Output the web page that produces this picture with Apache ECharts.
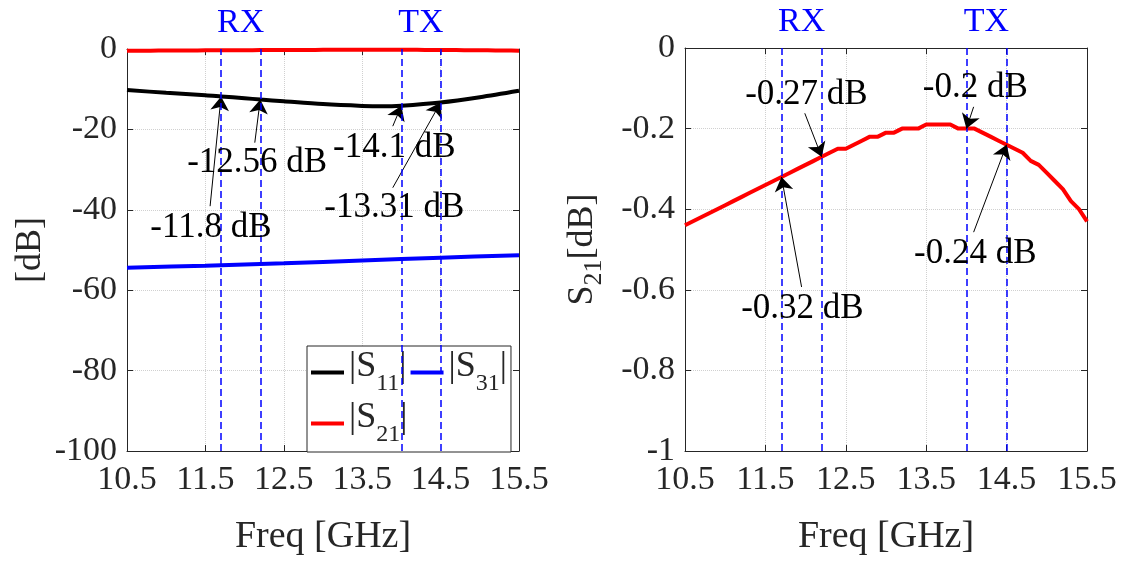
<!DOCTYPE html>
<html>
<head>
<meta charset="utf-8">
<script src="https://cdn.jsdelivr.net/npm/echarts@6/dist/echarts.min.js"></script>
<style>
html,body{margin:0;padding:0;background:#fff;}
#chart{width:1125px;height:561px;}
</style>
</head>
<body>
<div id="chart"></div>
<script>
// ---- Data ----
const freqTicks = [10.5, 11.5, 12.5, 13.5, 14.5, 15.5];
const freq = [10.5, 10.6, 10.7, 10.8, 10.9, 11.0, 11.1, 11.2, 11.3, 11.4,
  11.5, 11.6, 11.7, 11.8, 11.9, 12.0, 12.1, 12.2, 12.3, 12.4,
  12.5, 12.6, 12.7, 12.8, 12.9, 13.0, 13.1, 13.2, 13.3, 13.4,
  13.5, 13.6, 13.7, 13.8, 13.9, 14.0, 14.1, 14.2, 14.3, 14.4,
  14.5, 14.6, 14.7, 14.8, 14.9, 15.0, 15.1, 15.2, 15.3, 15.4, 15.5];
const s21 = [-0.44, -0.43, -0.42, -0.41, -0.40, -0.39, -0.38, -0.37, -0.36, -0.35,
  -0.34, -0.33, -0.32, -0.31, -0.30, -0.29, -0.28, -0.27, -0.26, -0.25,
  -0.25, -0.24, -0.23, -0.22, -0.22, -0.21, -0.21, -0.20, -0.20, -0.20,
  -0.19, -0.19, -0.19, -0.19, -0.20, -0.20, -0.20, -0.21, -0.22, -0.23,
  -0.24, -0.25, -0.26, -0.28, -0.29, -0.31, -0.33, -0.35, -0.38, -0.40, -0.43];
const freqS11 = [10.5, 11.0, 11.5, 11.7, 12.0, 12.2, 12.5, 13.0, 13.5, 13.75, 14.0, 14.5, 15.0, 15.5];
const s11 = [-10.2, -10.9, -11.5, -11.8, -12.25, -12.56, -13.0, -13.7, -14.15, -14.25, -14.1, -13.31, -12.0, -10.4];
const freqS31 = [10.5, 11.5, 12.5, 13.5, 14.5, 15.5];
const s31 = [-54.4, -53.9, -53.3, -52.6, -51.9, -51.3];
const bandEdges = [11.7, 12.2, 14.0, 14.5];
const bandNames = ['RX', 'TX'];
const bandCenters = [11.95, 14.25];
// annotations: [target freq, target value, text]
const annLeftTarget = [[11.7, -11.8], [12.2, -12.56], [14.0, -14.1], [14.5, -13.31]];
const annLeftText = ['-11.8 dB', '-12.56 dB', '-14.1 dB', '-13.31 dB'];
const annRightTarget = [[11.7, -0.32], [12.2, -0.27], [14.0, -0.2], [14.5, -0.24]];
const annRightText = ['-0.32 dB', '-0.27 dB', '-0.2 dB', '-0.24 dB'];

// ---- layout (not data) ----
const annLeftTail = [[11.56, -39.1], [12.13, -23.3], [13.89, -19.2], [13.89, -34.5]];
const annLeftLabel = [[11.57, -44.4], [12.16, -28.4], [13.91, -24.5], [13.91, -39.6]];
const annRightTail = [[11.95, -0.593], [11.99, -0.162], [14.09, -0.146], [14.09, -0.457]];
const annRightLabel = [[11.96, -0.647], [12.01, -0.116], [14.11, -0.098], [14.11, -0.511]];

const FONT = 'Liberation Serif';
const TXT = '#262626';
const zip = (xs, ys) => xs.map((x, i) => [x, ys[i]]);

function vlineData() {
  return bandEdges.map(x => ({ xAxis: x, symbol: 'none',
    lineStyle: { type: [7, 4], color: '#0000ff', width: 1.5 } }));
}
function arrowData(tails, targets) {
  return tails.map((t, i) => [
    { coord: t, symbol: 'none', lineStyle: { color: '#000', width: 1, type: 'solid' } },
    { coord: targets[i], symbol: 'arrow', symbolSize: 14 }
  ]);
}
function textData(pos, texts) {
  return pos.map((p, i) => ({ coord: p, name: texts[i], symbol: 'circle', symbolSize: 0,
    label: { show: true, position: 'inside', formatter: '{b}', fontSize: 35, fontFamily: FONT, color: '#000' } }));
}
function bandLabelData(top) {
  return bandCenters.map((c, i) => ({ coord: [c, top], name: bandNames[i], symbol: 'circle', symbolSize: 0,
    label: { show: true, position: 'inside', offset: [0, -26], formatter: '{b}', fontSize: 34, fontFamily: FONT, color: '#0000ff' } }));
}

function xAxisDef(grid, pos, showLabel, name) {
  return {
    type: 'value', gridIndex: grid, position: pos, min: 10.5, max: 15.5,
    axisLine: { show: true, onZero: false, lineStyle: { color: TXT, width: 1 } },
    axisTick: { show: true, inside: true, length: 6, customValues: freqTicks, lineStyle: { color: TXT } },
    axisLabel: { show: showLabel, customValues: freqTicks, fontSize: 34, fontFamily: FONT, color: TXT, margin: 12,
      formatter: v => v.toFixed(1) },
    splitLine: { show: showLabel, lineStyle: { type: 'dotted', color: '#d0d0d0', width: 1 } },
    name: name || '', nameLocation: 'middle', nameGap: 67,
    nameTextStyle: { fontSize: 38, fontFamily: FONT, color: TXT }
  };
}
function yAxisDef(grid, pos, showLabel, min, interval, name, nameGap) {
  return {
    type: 'value', gridIndex: grid, position: pos, min: min, max: 0, interval: interval,
    axisLine: { show: true, onZero: false, lineStyle: { color: TXT, width: 1 } },
    axisTick: { show: true, inside: true, length: 6, lineStyle: { color: TXT } },
    axisLabel: { show: showLabel, fontSize: 34, fontFamily: FONT, color: TXT, margin: 10 },
    splitLine: { show: showLabel, lineStyle: { type: 'dotted', color: '#d0d0d0', width: 1 } },
    name: name || '', nameLocation: 'middle', nameGap: nameGap || 0,
    nameTextStyle: { fontSize: 36, fontFamily: FONT, color: TXT,
      rich: { m: { fontSize: 36, fontFamily: FONT, color: TXT }, s: { fontSize: 26, fontFamily: FONT, color: TXT, padding: [22, 0, 0, 0] } } }
  };
}

const legendNames = { '|S11|': '11', '|S31|': '31', '|S21|': '21' };

const option = {
  animation: false,
  backgroundColor: '#fff',
  grid: [
    { left: 127, top: 49, width: 392, height: 412, show: false },
    { left: 685, top: 48, width: 402, height: 414, show: false }
  ],
  xAxis: [
    xAxisDef(0, 'bottom', true, 'Freq [GHz]'),
    xAxisDef(0, 'top', false),
    xAxisDef(1, 'bottom', true, 'Freq [GHz]'),
    xAxisDef(1, 'top', false)
  ],
  yAxis: [
    yAxisDef(0, 'left', true, -100, 20, '[dB]', 78),
    yAxisDef(0, 'right', false, -100, 20),
    yAxisDef(1, 'left', true, -1, 0.2, '{m|S}{s|21}{m|[dB]}', 78),
    yAxisDef(1, 'right', false, -1, 0.2)
  ],
  legend: {
    data: ['|S11|', '|S31|', '|S21|'],
    left: 307, top: 346, width: 215,
    orient: 'horizontal',
    backgroundColor: '#fff', borderColor: TXT, borderWidth: 1,
    padding: [3, 4, 5, 4], itemGap: 4,
    itemWidth: 33, itemHeight: 4, icon: 'rect',
    formatter: n => '{m||S}{s|' + legendNames[n] + '}{m||}',
    textStyle: {
      color: TXT, fontFamily: FONT, fontSize: 36,
      rich: {
        m: { fontSize: 36, fontFamily: FONT, color: TXT, lineHeight: 47, verticalAlign: 'top' },
        s: { fontSize: 24, fontFamily: FONT, color: TXT, lineHeight: 20, verticalAlign: 'bottom' }
      }
    }
  },
  series: [
    { name: '|S11|', type: 'line', xAxisIndex: 0, yAxisIndex: 0, data: zip(freqS11, s11), smooth: 0.3,
      showSymbol: false, lineStyle: { color: '#000', width: 4 }, itemStyle: { color: '#000' },
      markLine: { silent: true, symbol: ['none', 'none'], label: { show: false }, data: arrowData(annLeftTail, annLeftTarget) },
      markPoint: { silent: true, data: textData(annLeftLabel, annLeftText) } },
    { name: '|S31|', type: 'line', xAxisIndex: 0, yAxisIndex: 0, data: zip(freqS31, s31), smooth: 0.3,
      showSymbol: false, lineStyle: { color: '#0000ff', width: 4 }, itemStyle: { color: '#0000ff' },
      markLine: { silent: true, symbol: ['none', 'none'], label: { show: false }, data: vlineData() },
      markPoint: { silent: true, data: bandLabelData(0) } },
    { name: '|S21|', type: 'line', xAxisIndex: 0, yAxisIndex: 0, data: zip(freq, s21), clip: false,
      showSymbol: false, lineStyle: { color: '#ff0000', width: 4 }, itemStyle: { color: '#ff0000' } },
    { name: 'S21 right', type: 'line', xAxisIndex: 2, yAxisIndex: 2, data: zip(freq, s21),
      showSymbol: false, lineStyle: { color: '#ff0000', width: 4 }, itemStyle: { color: '#ff0000' },
      markLine: { silent: true, symbol: ['none', 'none'], label: { show: false },
        data: vlineData().concat(arrowData(annRightTail, annRightTarget)) },
      markPoint: { silent: true, data: textData(annRightLabel, annRightText).concat(bandLabelData(0)) } }
  ]
};

const chart = echarts.init(document.getElementById('chart'), null, { renderer: 'canvas' });
chart.setOption(option);
</script>
</body>
</html>
